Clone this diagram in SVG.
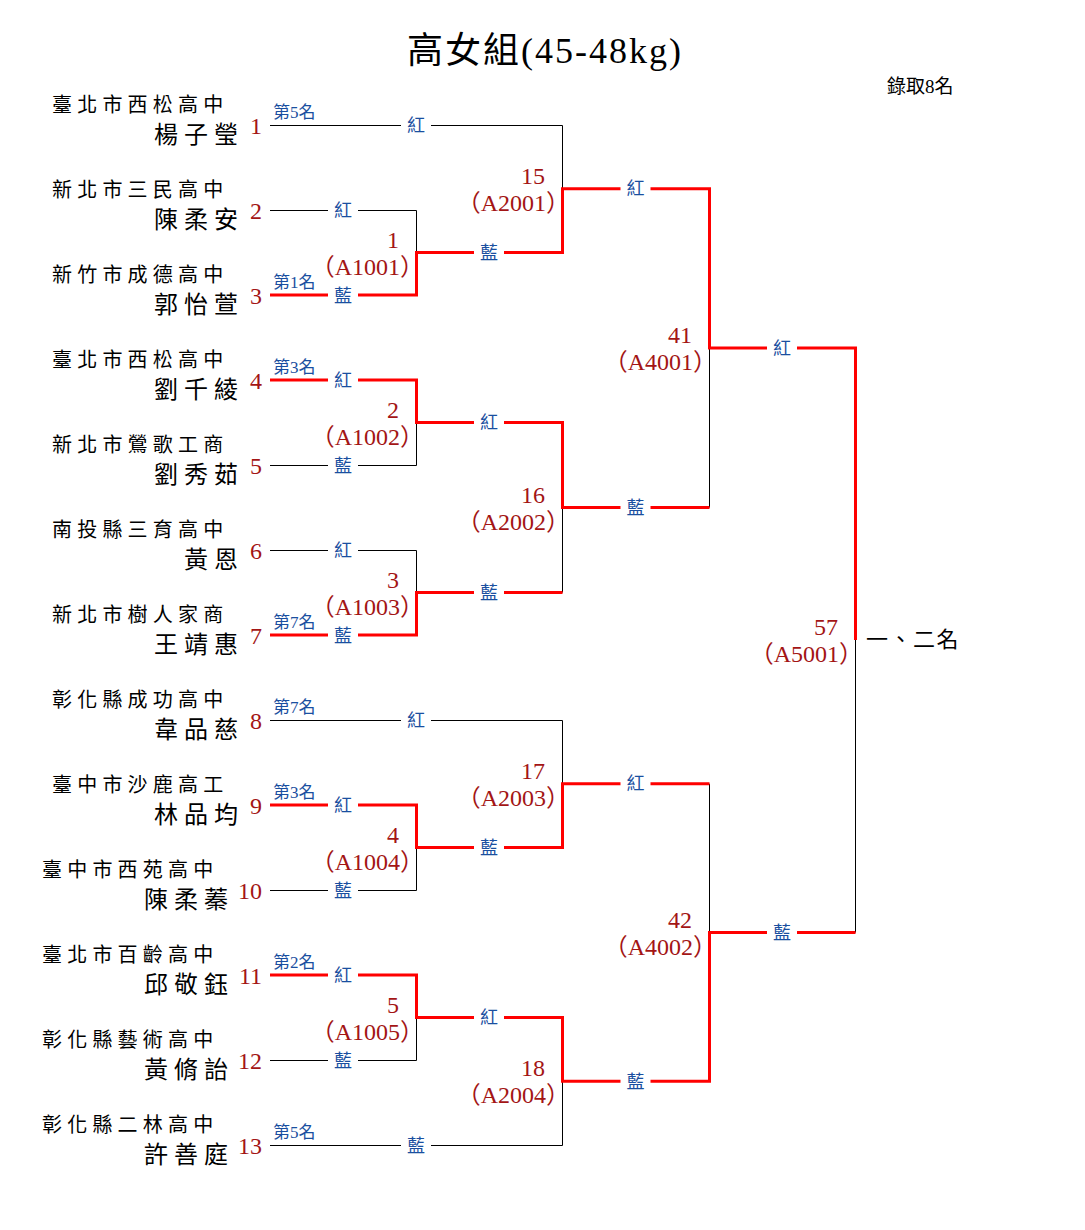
<svg xmlns="http://www.w3.org/2000/svg" width="1085" height="1230" viewBox="0 0 1085 1230">
<style>
text{font-family:"Liberation Sans","Noto Sans CJK TC",sans-serif}
.title{font-family:"Liberation Serif","Noto Sans CJK TC",serif;font-size:36px;letter-spacing:2px;text-anchor:middle;fill:#000}
.note{font-family:"Liberation Serif","Noto Sans CJK TC",serif;font-size:19px;fill:#000}
.school{font-size:20px;letter-spacing:5.2px;fill:#000}
.name{font-size:24px;letter-spacing:6px;fill:#000}
.seed{font-family:"Liberation Serif","Noto Sans CJK TC",serif;font-size:24px;fill:#a31515;text-anchor:end}
.rank{font-family:"Liberation Serif","Noto Sans CJK TC",serif;font-size:17px;fill:#1a4fa0}
.lbl{font-size:18px;fill:#1a4fa0;text-anchor:middle}
.gap{fill:#fff}
.thin{stroke:#000;stroke-width:1;fill:none}
.win{stroke:#f00;stroke-width:3;fill:none;stroke-linejoin:miter;stroke-linecap:butt}
.place{font-size:22px;letter-spacing:1.5px;fill:#000}
</style>
<rect width="1085" height="1230" fill="#fff"/>
<text class="title" x="545" y="63">高女組(45-48kg)</text>
<text class="note" x="887" y="93">錄取8名</text>

<g id="connectors">
  <g id="losers">
    <polyline class="thin" points="270,125.5 562.5,125.5 562.5,188.75"/>
    <polyline class="thin" points="270,210.5 416.5,210.5 416.5,252.5"/>
    <polyline class="thin" points="270,465.5 416.5,465.5 416.5,422.5"/>
    <polyline class="thin" points="270,550.5 416.5,550.5 416.5,592.5"/>
    <polyline class="thin" points="562.5,592.5 562.5,507.5"/>
    <polyline class="thin" points="709.5,507.5 709.5,348"/>
    <polyline class="thin" points="270,720.5 562.5,720.5 562.5,783.75"/>
    <polyline class="thin" points="270,890.5 416.5,890.5 416.5,847.5"/>
    <polyline class="thin" points="270,1060.5 416.5,1060.5 416.5,1017.5"/>
    <polyline class="thin" points="270,1145.5 562.5,1145.5 562.5,1081.25"/>
    <polyline class="thin" points="709.5,783.75 709.5,932.5"/>
    <polyline class="thin" points="855.5,640 855.5,932.5"/>
  </g>
  <g id="winners">
    <polyline class="win" points="270,295 416.5,295 416.5,252.5 562.5,252.5 562.5,188.75 709.5,188.75 709.5,348 855.5,348 855.5,640"/>
    <polyline class="win" points="270,380 416.5,380 416.5,422.5 562.5,422.5 562.5,507.5 709.5,507.5"/>
    <polyline class="win" points="270,635 416.5,635 416.5,592.5 562.5,592.5"/>
    <polyline class="win" points="270,805 416.5,805 416.5,847.5 562.5,847.5 562.5,783.75 709.5,783.75"/>
    <polyline class="win" points="270,975 416.5,975 416.5,1017.5 562.5,1017.5 562.5,1081.25 709.5,1081.25 709.5,932.5 855.5,932.5"/>
  </g>
  <g id="corner-labels">
    <rect class="gap" x="401" y="115" width="30" height="20"/><text class="lbl" x="416" y="131.5">紅</text>
    <rect class="gap" x="328" y="200" width="30" height="20"/><text class="lbl" x="343" y="216.5">紅</text>
    <rect class="gap" x="328" y="285" width="30" height="20"/><text class="lbl" x="343" y="301.5">藍</text>
    <rect class="gap" x="328" y="370" width="30" height="20"/><text class="lbl" x="343" y="386.5">紅</text>
    <rect class="gap" x="328" y="455" width="30" height="20"/><text class="lbl" x="343" y="471.5">藍</text>
    <rect class="gap" x="328" y="540" width="30" height="20"/><text class="lbl" x="343" y="556.5">紅</text>
    <rect class="gap" x="328" y="625" width="30" height="20"/><text class="lbl" x="343" y="641.5">藍</text>
    <rect class="gap" x="401" y="710" width="30" height="20"/><text class="lbl" x="416" y="726.5">紅</text>
    <rect class="gap" x="328" y="795" width="30" height="20"/><text class="lbl" x="343" y="811.5">紅</text>
    <rect class="gap" x="328" y="880" width="30" height="20"/><text class="lbl" x="343" y="896.5">藍</text>
    <rect class="gap" x="328" y="965" width="30" height="20"/><text class="lbl" x="343" y="981.5">紅</text>
    <rect class="gap" x="328" y="1050" width="30" height="20"/><text class="lbl" x="343" y="1066.5">藍</text>
    <rect class="gap" x="401" y="1135" width="30" height="20"/><text class="lbl" x="416" y="1151.5">藍</text>
    <rect class="gap" x="474" y="242.5" width="30" height="20"/><text class="lbl" x="489" y="259">藍</text>
    <rect class="gap" x="474" y="412.5" width="30" height="20"/><text class="lbl" x="489" y="429">紅</text>
    <rect class="gap" x="474" y="582.5" width="30" height="20"/><text class="lbl" x="489" y="599">藍</text>
    <rect class="gap" x="474" y="837.5" width="30" height="20"/><text class="lbl" x="489" y="854">藍</text>
    <rect class="gap" x="474" y="1007.5" width="30" height="20"/><text class="lbl" x="489" y="1024">紅</text>
    <rect class="gap" x="620.5" y="178.75" width="30" height="20"/><text class="lbl" x="635.5" y="195.25">紅</text>
    <rect class="gap" x="620.5" y="497.5" width="30" height="20"/><text class="lbl" x="635.5" y="514">藍</text>
    <rect class="gap" x="620.5" y="773.75" width="30" height="20"/><text class="lbl" x="635.5" y="790.25">紅</text>
    <rect class="gap" x="620.5" y="1071.25" width="30" height="20"/><text class="lbl" x="635.5" y="1087.75">藍</text>
    <rect class="gap" x="767" y="338" width="30" height="20"/><text class="lbl" x="782" y="354.5">紅</text>
    <rect class="gap" x="767" y="922.5" width="30" height="20"/><text class="lbl" x="782" y="939">藍</text>
  </g>
</g>

<g id="entrant-1"><text class="school" x="52" y="112">臺北市西松高中</text><text class="name" x="154" y="143">楊子瑩</text><text class="seed" x="262" y="134">1</text><text class="rank" x="273" y="118">第5名</text></g>
<g id="entrant-2"><text class="school" x="52" y="197">新北市三民高中</text><text class="name" x="154" y="228">陳柔安</text><text class="seed" x="262" y="219">2</text></g>
<g id="entrant-3"><text class="school" x="52" y="282">新竹市成德高中</text><text class="name" x="154" y="313">郭怡萱</text><text class="seed" x="262" y="304">3</text><text class="rank" x="273" y="288">第1名</text></g>
<g id="entrant-4"><text class="school" x="52" y="367">臺北市西松高中</text><text class="name" x="154" y="398">劉千綾</text><text class="seed" x="262" y="389">4</text><text class="rank" x="273" y="373">第3名</text></g>
<g id="entrant-5"><text class="school" x="52" y="452">新北市鶯歌工商</text><text class="name" x="154" y="483">劉秀茹</text><text class="seed" x="262" y="474">5</text></g>
<g id="entrant-6"><text class="school" x="52" y="537">南投縣三育高中</text><text class="name" x="184" y="568">黃恩</text><text class="seed" x="262" y="559">6</text></g>
<g id="entrant-7"><text class="school" x="52" y="622">新北市樹人家商</text><text class="name" x="154" y="653">王靖惠</text><text class="seed" x="262" y="644">7</text><text class="rank" x="273" y="628">第7名</text></g>
<g id="entrant-8"><text class="school" x="52" y="707">彰化縣成功高中</text><text class="name" x="154" y="738">韋品慈</text><text class="seed" x="262" y="729">8</text><text class="rank" x="273" y="713">第7名</text></g>
<g id="entrant-9"><text class="school" x="52" y="792">臺中市沙鹿高工</text><text class="name" x="154" y="823">林品均</text><text class="seed" x="262" y="814">9</text><text class="rank" x="273" y="798">第3名</text></g>
<g id="entrant-10"><text class="school" x="42" y="877">臺中市西苑高中</text><text class="name" x="144" y="908">陳柔蓁</text><text class="seed" x="262" y="899">10</text></g>
<g id="entrant-11"><text class="school" x="42" y="962">臺北市百齡高中</text><text class="name" x="144" y="993">邱敬鈺</text><text class="seed" x="262" y="984">11</text><text class="rank" x="273" y="968">第2名</text></g>
<g id="entrant-12"><text class="school" x="42" y="1047">彰化縣藝術高中</text><text class="name" x="144" y="1078">黃脩詒</text><text class="seed" x="262" y="1069">12</text></g>
<g id="entrant-13"><text class="school" x="42" y="1132">彰化縣二林高中</text><text class="name" x="144" y="1163">許善庭</text><text class="seed" x="262" y="1154">13</text><text class="rank" x="273" y="1138">第5名</text></g>

<g id="match-1"><text class="seed" x="399" y="247.5">1</text><text class="seed" x="424" y="274.5">（A1001）</text></g>
<g id="match-2"><text class="seed" x="399" y="417.5">2</text><text class="seed" x="424" y="444.5">（A1002）</text></g>
<g id="match-3"><text class="seed" x="399" y="587.5">3</text><text class="seed" x="424" y="614.5">（A1003）</text></g>
<g id="match-4"><text class="seed" x="399" y="842.5">4</text><text class="seed" x="424" y="869.5">（A1004）</text></g>
<g id="match-5"><text class="seed" x="399" y="1012.5">5</text><text class="seed" x="424" y="1039.5">（A1005）</text></g>
<g id="match-15"><text class="seed" x="545" y="183.75">15</text><text class="seed" x="570" y="210.75">（A2001）</text></g>
<g id="match-16"><text class="seed" x="545" y="502.5">16</text><text class="seed" x="570" y="529.5">（A2002）</text></g>
<g id="match-17"><text class="seed" x="545" y="778.75">17</text><text class="seed" x="570" y="805.75">（A2003）</text></g>
<g id="match-18"><text class="seed" x="545" y="1076.25">18</text><text class="seed" x="570" y="1103.25">（A2004）</text></g>
<g id="match-41"><text class="seed" x="692" y="343">41</text><text class="seed" x="717" y="370">（A4001）</text></g>
<g id="match-42"><text class="seed" x="692" y="927.5">42</text><text class="seed" x="717" y="954.5">（A4002）</text></g>
<g id="match-57"><text class="seed" x="838" y="635">57</text><text class="seed" x="863" y="662">（A5001）</text><text class="place" x="866" y="647">一、二名</text></g>
</svg>
